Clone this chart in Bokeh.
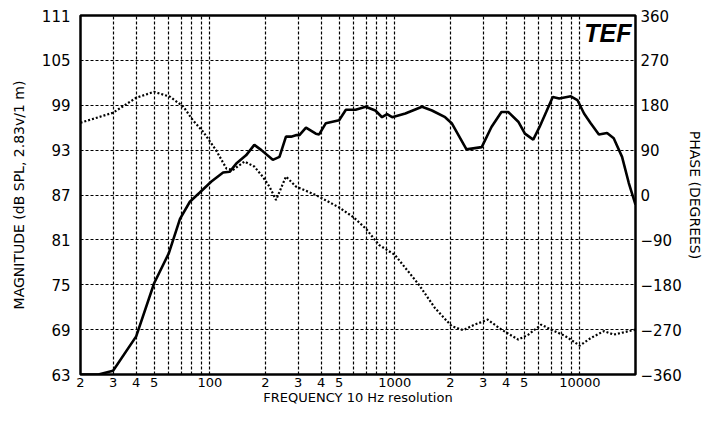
from bokeh.plotting import figure
from bokeh.models import Range1d, LinearAxis, FixedTicker, Label
from bokeh.embed import file_html
from bokeh.resources import INLINE

# ---- data ----
mag_freq = [20, 25, 30, 40, 50, 60, 69, 78, 88, 102, 118, 128, 139, 157, 174, 190,
            219, 238, 258, 275, 292, 305, 331, 374, 390, 424, 500, 544, 614, 696, 785,
            853, 908, 967, 1140, 1403, 1588, 1870, 2030, 2440, 2950, 3330, 3770, 4100,
            4650, 5050, 5600, 6060, 6580, 7140, 7740, 8940, 9700, 10540, 11450, 12680,
            14040, 15250, 16920, 18400, 20000]
mag_db = [63.0, 63.0, 63.5, 68.1, 75.2, 79.2, 83.8, 86.1, 87.3, 88.8, 90.0, 90.1, 91.2,
          92.3, 93.7, 93.0, 91.7, 92.1, 94.8, 94.8, 95.0, 95.0, 96.0, 95.2, 95.1, 96.6,
          97.0, 98.4, 98.4, 98.8, 98.3, 97.4, 97.8, 97.4, 97.9, 98.8, 98.3, 97.4, 96.6,
          93.1, 93.4, 96.1, 98.1, 98.1, 96.8, 95.2, 94.4, 96.1, 98.1, 100.1, 99.9, 100.2,
          99.7, 97.9, 96.6, 95.1, 95.3, 94.6, 92.1, 88.6, 85.7]

ph_freq = [20, 30, 40, 50, 61, 72, 81, 92, 108, 123, 133, 154, 174, 193, 210, 228, 258,
           292, 374, 500, 600, 700, 820, 1000, 1350, 1650, 2030, 2340, 2700, 3180, 3770,
           4650, 5270, 6190, 7000, 8260, 10000, 11450, 13500, 15250, 20000]
ph_deg = [145, 165, 195, 207, 197, 177, 150, 127, 90, 53, 50, 67, 57, 37, 17, -10, 37,
          17, 0, -25, -45, -68, -100, -120, -180, -227, -263, -271, -260, -250, -270,
          -290, -280, -260, -270, -282, -302, -287, -273, -280, -270]

mag_ticks = [63, 69, 75, 81, 87, 93, 99, 105, 111]
phase_ticks = [-360, -270, -180, -90, 0, 90, 180, 270, 360]
phase_tick_labels = ["\u2212360", "\u2212270", "\u2212180", "\u221290", "0", "90", "180", "270", "360"]
freq_ticks = [20, 30, 40, 50, 100, 200, 300, 400, 500, 1000, 2000, 3000, 4000, 5000, 10000]
freq_labels = ["2", "3", "4", "5", "100", "2", "3", "4", "5", "1000", "2", "3", "4", "5", "10000"]
grid_freqs = [m * d for d in (10, 100, 1000) for m in range(2 if d == 10 else 1, 10)] + [10000, 20000]

FONT = "DejaVu Sans"

p = figure(width=705, height=407, x_axis_type="log", x_range=Range1d(20, 20000),
           y_range=Range1d(63, 111), output_backend="svg", toolbar_location=None,
           min_border_left=80, min_border_right=65, min_border_top=15, min_border_bottom=31)
p.extra_y_ranges = {"phase": Range1d(-360, 360)}

p.outline_line_color = "black"
p.outline_line_width = 2.5
p.outline_line_alpha = 1

# grids
p.xgrid.ticker = FixedTicker(ticks=grid_freqs)
p.ygrid.ticker = FixedTicker(ticks=mag_ticks)
for g in (p.xgrid, p.ygrid):
    g.grid_line_color = "black"
    g.grid_line_dash = "3 2"
    g.grid_line_width = 1.2
    g.grid_line_alpha = 1

# x axis
xa = p.xaxis[0]
xa.ticker = FixedTicker(ticks=freq_ticks)
xa.major_label_overrides = {t: l for t, l in zip(freq_ticks, freq_labels)}
xa.axis_label = "FREQUENCY 10 Hz resolution"

# left axis
ya = p.yaxis[0]
ya.ticker = FixedTicker(ticks=mag_ticks)
ya.axis_label = "MAGNITUDE (dB SPL, 2.83v/1 m)"

# right axis
ra = LinearAxis(y_range_name="phase", ticker=FixedTicker(ticks=phase_ticks),
                axis_label="PHASE (DEGREES)")
ra.major_label_overrides = {t: l for t, l in zip(phase_ticks, phase_tick_labels)}
p.add_layout(ra, "right")

for ax in (xa, ya, ra):
    ax.axis_line_color = None
    ax.major_tick_line_color = None
    ax.minor_tick_line_color = None
    ax.major_tick_out = 0
    ax.minor_tick_out = 0
    ax.major_label_text_font = FONT
    ax.major_label_text_font_size = "15px"
    ax.major_label_text_color = "black"
    ax.axis_label_text_font = FONT
    ax.axis_label_text_font_size = "14px"
    ax.axis_label_text_font_style = "normal"
    ax.axis_label_text_color = "black"

xa.major_label_text_font_size = "13px"
xa.axis_label_text_font_size = "13px"
xa.major_label_standoff = 3
xa.axis_label_standoff = 0
ya.major_label_standoff = 10
ya.axis_label_standoff = 12
ra.major_label_standoff = 5
ra.axis_label_standoff = 2

# curves
p.line(ph_freq, ph_deg, y_range_name="phase", line_color="black", line_width=2.2,
       line_dash="2 2")
p.line(mag_freq, mag_db, line_color="black", line_width=2.6)

# TEF logo
p.add_layout(Label(x=20000, y=111, text="TEF", text_align="right", text_baseline="top",
                   x_offset=-4, y_offset=-3, text_font="Liberation Sans",
                   text_font_style="bold italic", text_font_size="25px",
                   text_color="black", background_fill_color="white",
                   background_fill_alpha=1))

open("out.html", "w").write(file_html(p, INLINE))
